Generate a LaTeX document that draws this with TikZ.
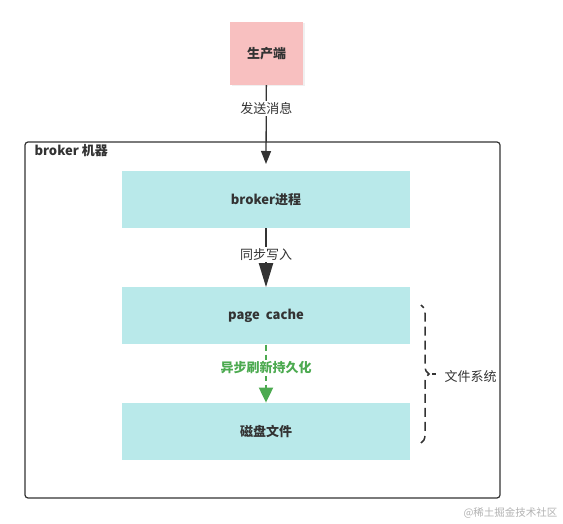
\documentclass[tikz,border=0pt]{standalone}
\usepackage{fontspec}
\setmainfont{Noto Sans CJK SC}
\usetikzlibrary{arrows.meta,positioning,shadows,decorations.pathreplacing}
\definecolor{mypink}{RGB}{248,192,192}
\definecolor{mycyan}{RGB}{185,233,234}
\definecolor{mygreen}{RGB}{76,170,80}
\definecolor{mygray}{RGB}{51,51,51}

\begin{document}
\begin{tikzpicture}[x=1pt, y=-1pt,
    every node/.style={font=\fontsize{13}{15}\selectfont, text=mygray},
    layerbox/.style={fill=mycyan, minimum width=288pt, minimum height=57pt, inner sep=0pt, font=\fontsize{13}{15}\selectfont\bfseries},
    flowlabel/.style={fill=white, inner sep=1.5pt}]
  \useasboundingbox (0,0) rectangle (563,524);
  % broker machine frame
  \draw[mygray, line width=1.2pt, rounded corners=3pt] (25,142) rectangle (500,498);
  \node[anchor=west, font=\fontsize{13}{15}\selectfont\bfseries] (machine) at (31,151) {broker 机器};
  % producer
  \node[fill=mypink, minimum width=73pt, minimum height=63pt, inner sep=0pt,
        drop shadow={opacity=0.12, shadow xshift=1.5pt, shadow yshift=-1.5pt},
        font=\fontsize{13}{15}\selectfont\bfseries] (prod) at (266.5,53.5) {生产端};
  % layers
  \node[layerbox] (proc) at (266,199.5) {broker进程};
  \node[layerbox, below=59pt of proc] (cache) {page\ \ cache};
  \node[layerbox, below=58pt of cache] (disk) {磁盘文件};
  \coordinate (procin) at (266,164);
  % connectors
  \draw[-{Triangle[length=13pt, width=10pt]}, mygray, line width=1.3pt] (prod) -- (procin)
    node[flowlabel, pos=0.3] (send) {发送消息};
  \draw[-{Triangle[length=24pt, width=14pt]}, mygray, line width=2pt] (proc) -- (cache)
    node[flowlabel, pos=0.45] (sync) {同步写入};
  \draw[-{Triangle[length=15pt, width=14pt]}, mygreen, line width=2pt, dash pattern=on 6pt off 4pt] (cache) -- (disk)
    node[flowlabel, pos=0.4, text=mygreen, font=\fontsize{13}{15}\selectfont\bfseries] (async) {异步刷新持久化};
  % file system brace
  \draw[mygray, line width=1.5pt, dash pattern=on 9pt off 5pt, dash phase=5pt,
        decorate, decoration={brace, amplitude=8pt}] (421,305) -- (421,443);
  \draw[mygray, line width=1.5pt] (432,374) -- (436,374);
  \node[anchor=west] (fs) at (441,377) {文件系统};
  % watermark
  \node[anchor=east, text=black!30, font=\fontsize{10.5}{12}\selectfont] (mark) at (561,513) {@稀土掘金技术社区};
\end{tikzpicture}
\end{document}
